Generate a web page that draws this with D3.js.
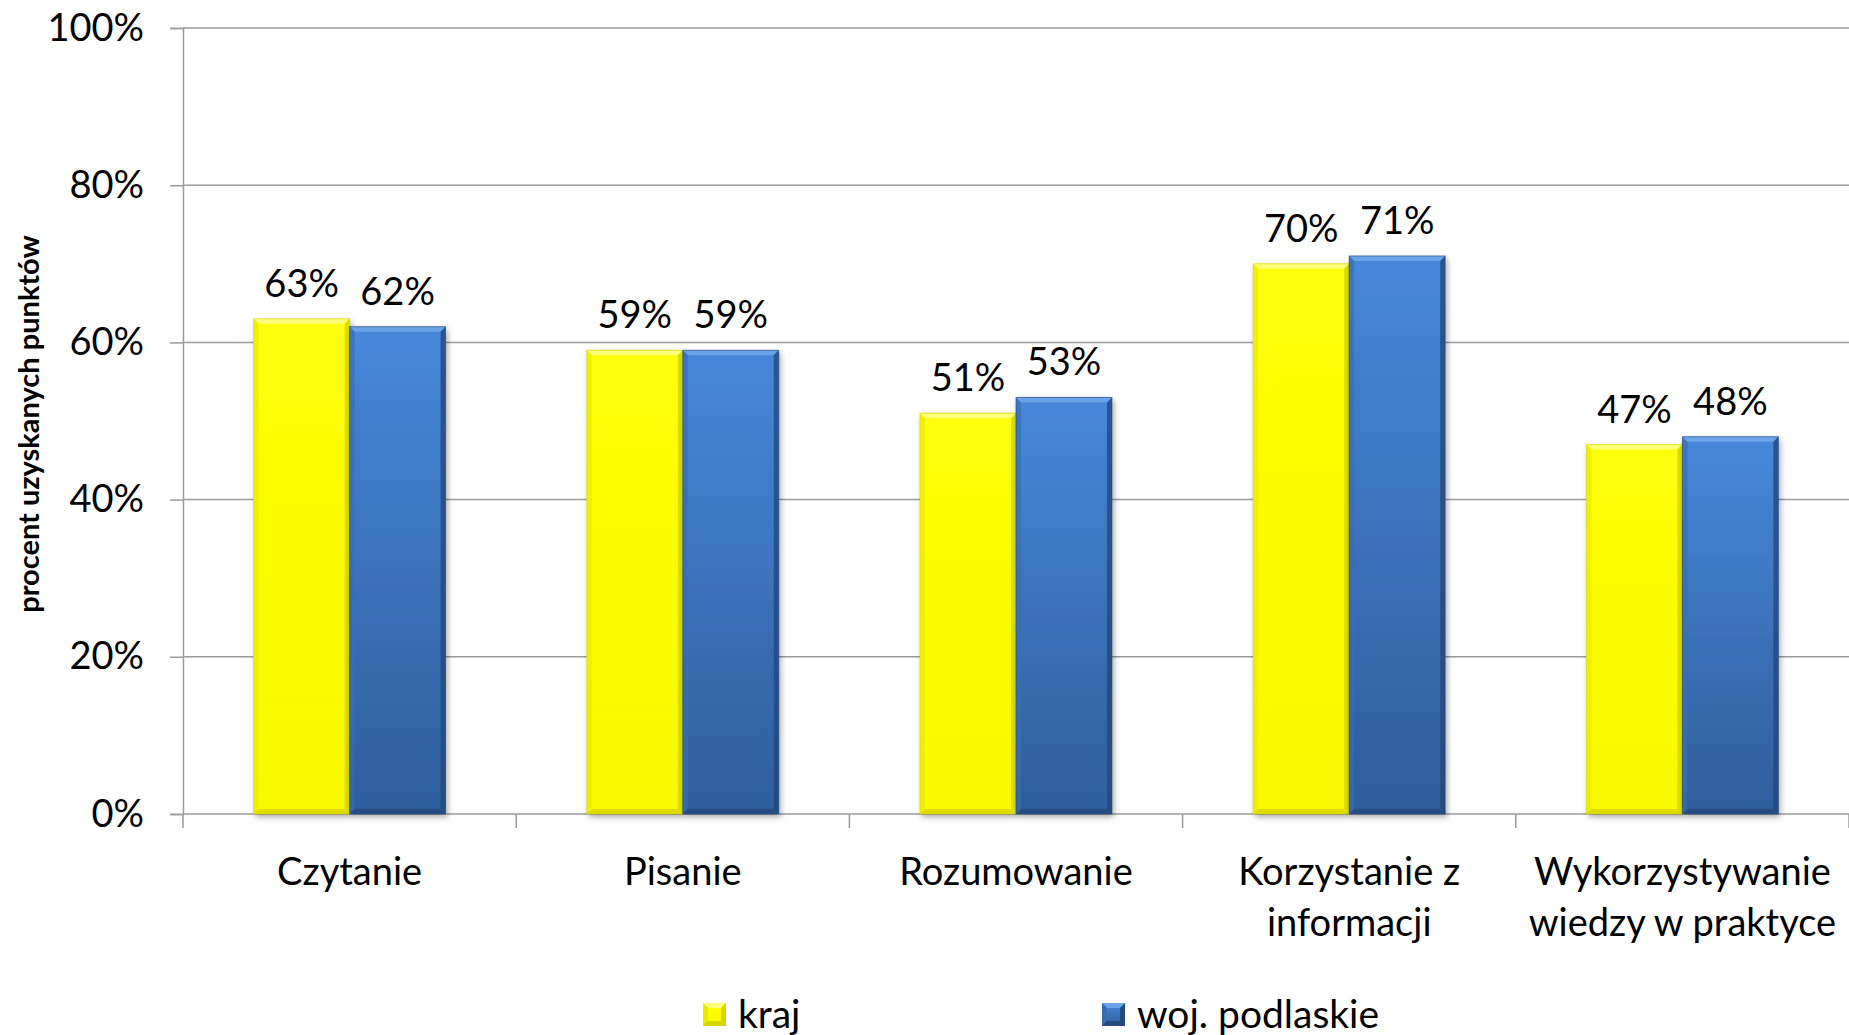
<!DOCTYPE html>
<html><head><meta charset="utf-8">
<script src="https://cdn.jsdelivr.net/npm/d3@7"></script>
<style>body{margin:0;background:#fff}svg{display:block}text{font-family:Lato,"Open Sans",sans-serif}</style>
</head><body>
<svg id="c" width="1849" height="1035"></svg>
<script>
const categories = [["Czytanie"],["Pisanie"],["Rozumowanie"],["Korzystanie z","informacji"],["Wykorzystywanie","wiedzy w praktyce"]];
const seriesNames = ["kraj","woj. podlaskie"];
const kraj = [63,59,51,70,47];
const podlaskie = [62,59,53,71,48];
const yTicks = [0,20,40,60,80,100];
const yTitle = "procent uzyskanych punktów";

const W=1849,H=1035, L=183, R=1849, T=28, B=814;
const svg=d3.select("#c");
const defs=svg.append("defs");
function grad(id,c1,c2){const g=defs.append("linearGradient").attr("id",id).attr("x1",0).attr("y1",0).attr("x2",0).attr("y2",1);
 g.append("stop").attr("offset","0%").attr("stop-color",c1);g.append("stop").attr("offset","100%").attr("stop-color",c2);}
grad("gy","#FFFF08","#F8F800");
grad("gb","#4788DA","#2E5D9C");
const f=defs.append("filter").attr("id","sh").attr("x","-10%").attr("y","-10%").attr("width","130%").attr("height","130%");
f.append("feGaussianBlur").attr("in","SourceAlpha").attr("stdDeviation",3);
f.append("feOffset").attr("dx",2).attr("dy",3).attr("result","o");
f.append("feComponentTransfer").append("feFuncA").attr("type","linear").attr("slope",0.35);
const m=f.append("feMerge");m.append("feMergeNode");m.append("feMergeNode").attr("in","SourceGraphic");

const idx=categories.map((d,i)=>i);
const x0=d3.scaleBand().domain(idx).range([L,R]).paddingInner(0.424).paddingOuter(0.212);
const x1=d3.scaleBand().domain([0,1]).range([0,x0.bandwidth()]);
const y=d3.scaleLinear().domain([0,100]).range([B,T]);

// gridlines
svg.append("g").selectAll("line").data(yTicks.filter(d=>d>0)).join("line")
 .attr("x1",L).attr("x2",R).attr("y1",d=>y(d)).attr("y2",d=>y(d)).attr("stroke","#9B9B9B").attr("stroke-width",1.5);

// y axis
const ya=svg.append("g").attr("transform",`translate(${L},0)`).call(d3.axisLeft(y).tickValues(yTicks).tickFormat(d=>d+"%").tickSize(13).tickPadding(26));
ya.select(".domain").attr("stroke","#9B9B9B").attr("stroke-width",1.5);
ya.selectAll(".tick line").attr("stroke","#9B9B9B").attr("stroke-width",1.5);
ya.selectAll(".tick text").attr("font-size",38).attr("font-family","Lato").attr("fill","#000");

// x axis
const xa=svg.append("g").attr("transform",`translate(0,${B})`);
xa.append("line").attr("x1",L).attr("x2",R).attr("stroke","#9B9B9B").attr("stroke-width",1.5);
const step=x0.step();
xa.selectAll("line.t").data(d3.range(categories.length+1)).join("line").attr("class","t")
 .attr("x1",d=>L+d*step).attr("x2",d=>L+d*step).attr("y1",0).attr("y2",14).attr("stroke","#9B9B9B").attr("stroke-width",1.5);
xa.selectAll("text").data(categories).join("text")
 .attr("text-anchor","middle").attr("font-size",38).attr("fill","#000")
 .attr("transform",(d,i)=>`translate(${x0(i)+x0.bandwidth()/2},0)`)
 .selectAll("tspan").data(d=>d).join("tspan").attr("x",0).attr("y",(d,j)=>71+j*51).text(d=>d);

// bars
const data=[kraj,podlaskie];
const fills=["url(#gy)","url(#gb)"];
const edge=[{light:"#FFFF7A",dark:"#D6D600",side:"#EAEA00"},{light:"#6AA3E8",dark:"#24497C",side:"#3A6DB0"}];
const bev=5;
data.forEach((vals,s)=>{
 const g=svg.append("g");
 vals.forEach((v,i)=>{
  const bx=x0(i)+x1(s), bw=x1.bandwidth(), by=y(v), bh=B-y(v);
  const gg=g.append("g");
  gg.append("rect").attr("x",bx).attr("y",by).attr("width",bw).attr("height",bh).attr("fill",fills[s]).attr("filter","url(#sh)");
  const e=edge[s];
  gg.append("path").attr("d",`M${bx},${by}L${bx+bw},${by}L${bx+bw-bev},${by+bev}L${bx+bev},${by+bev}Z`).attr("fill",e.light);
  gg.append("path").attr("d",`M${bx},${by}L${bx+bev},${by+bev}L${bx+bev},${B-bev}L${bx},${B}Z`).attr("fill",e.side).attr("opacity",0.7);
  gg.append("path").attr("d",`M${bx+bw},${by}L${bx+bw-bev},${by+bev}L${bx+bw-bev},${B-bev}L${bx+bw},${B}Z`).attr("fill",e.dark).attr("opacity",0.8);
  gg.append("path").attr("d",`M${bx},${B}L${bx+bev},${B-bev}L${bx+bw-bev},${B-bev}L${bx+bw},${B}Z`).attr("fill",e.dark).attr("opacity",0.8);
  gg.append("rect").attr("x",bx).attr("y",by).attr("width",bw).attr("height",bh).attr("fill","none").attr("stroke",e.dark).attr("stroke-width",1).attr("stroke-opacity",0.6);
  svg.append("text").attr("x",bx+bw/2).attr("y",by-22).attr("text-anchor","middle").attr("font-size",38).attr("fill","#000").text(v+"%");
 });
});

// y title
svg.append("text").attr("transform",`translate(39,${(T+B)/2+3}) rotate(-90)`).attr("text-anchor","middle")
 .attr("font-size",29).attr("font-weight","bold").attr("fill","#000").text(yTitle);

// legend
const leg=[{x:703,s:0},{x:1102,s:1}];
leg.forEach(l=>{
 const sz=23, b=5;
 const g=svg.append("g").attr("transform",`translate(${l.x},1003)`);
 const e=edge[l.s];
 g.append("rect").attr("width",sz).attr("height",sz).attr("fill",fills[l.s]);
 g.append("path").attr("d",`M0,0L${sz},0L${sz-b},${b}L${b},${b}Z`).attr("fill",e.light);
 g.append("path").attr("d",`M0,0L${b},${b}L${b},${sz-b}L0,${sz}Z`).attr("fill",e.side);
 g.append("path").attr("d",`M${sz},0L${sz-b},${b}L${sz-b},${sz-b}L${sz},${sz}Z`).attr("fill",e.dark);
 g.append("path").attr("d",`M0,${sz}L${b},${sz-b}L${sz-b},${sz-b}L${sz},${sz}Z`).attr("fill",e.dark);
 g.append("text").attr("x",sz+12).attr("y",sz+2).attr("font-size",39).attr("fill","#000").text(seriesNames[l.s]);
});
</script>
</body></html>
